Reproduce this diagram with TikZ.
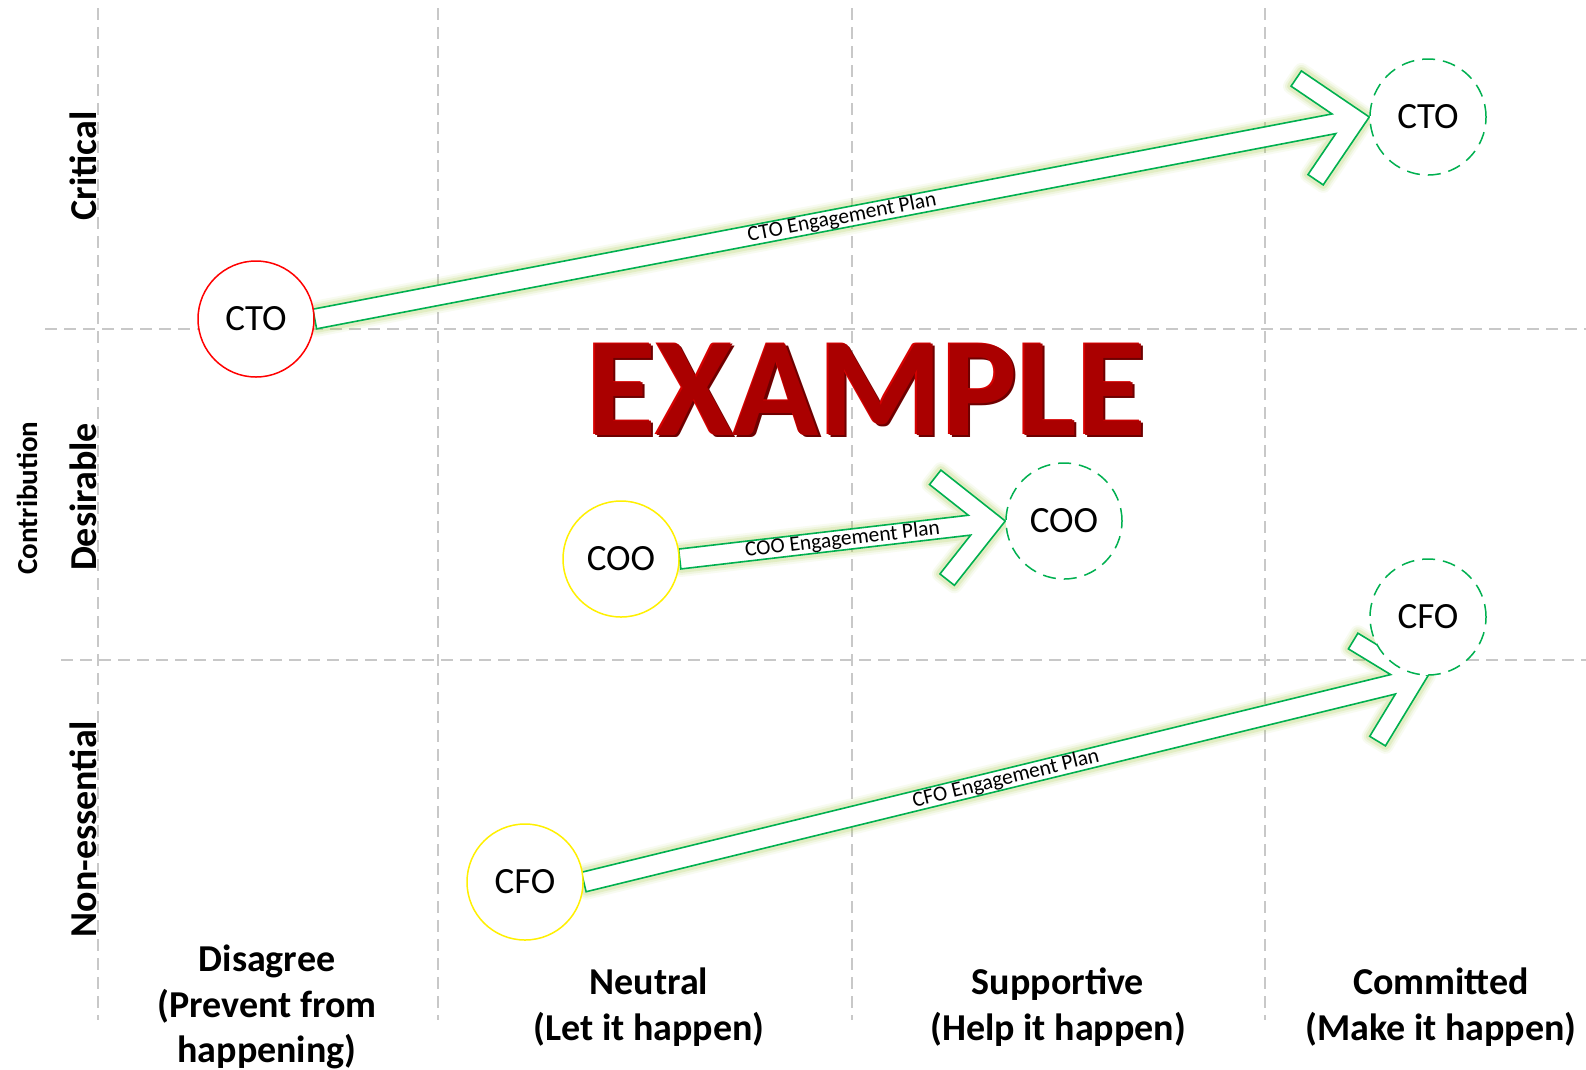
\documentclass[tikz,border=0pt]{standalone}
\usepackage{fontspec}
\setmainfont{Carlito}
\usetikzlibrary{calc}
\pgfdeclarelayer{bg}
\pgfdeclarelayer{arr}
\pgfsetlayers{bg,arr,main}
\definecolor{gridgray}{RGB}{200,200,200}
\definecolor{plangreen}{RGB}{0,176,80}
\definecolor{glowgreen}{RGB}{160,200,60}
\definecolor{nowred}{RGB}{255,0,0}
\definecolor{nowyellow}{RGB}{255,240,0}
\definecolor{exdark}{RGB}{110,0,0}
\definecolor{exmid}{RGB}{170,0,0}
\definecolor{exlight}{RGB}{215,0,0}

\newcommand\engarrow[3]{%
  \path (#1) coordinate (T) (#2) coordinate (P);
  \path ($(P)!36pt!(T)$) coordinate (Ha)
        ($(P)!58pt!(T)$) coordinate (Hb)
        ($(P)!71pt!(T)$) coordinate (Hc);
  \path ($(T)!10pt!90:(P)$) coordinate (tU)
        ($(T)!10pt!-90:(P)$) coordinate (tD)
        ($(Ha)!10pt!90:(P)$) coordinate (sU)
        ($(Ha)!10pt!-90:(P)$) coordinate (sD)
        ($(Hb)!58pt!90:(P)$) coordinate (bU)
        ($(Hb)!58pt!-90:(P)$) coordinate (bD)
        ($(Hc)!45pt!90:(P)$) coordinate (cU)
        ($(Hc)!45pt!-90:(P)$) coordinate (cD);
  \foreach \w/\o in {16/0.07, 12/0.10, 8/0.16}{
    \draw[glowgreen, line width=\w pt, opacity=\o, line join=round]
      (tU) -- (sU) -- (cU) -- (bU) -- (P) -- (bD) -- (cD) -- (sD) -- (tD) -- cycle;}
  \draw[plangreen, fill=white, line width=1.6pt, line join=miter]
      (tU) -- (sU) -- (cU) -- (bU) -- (P) -- (bD) -- (cD) -- (sD) -- (tD) -- cycle;
  \path (T) -- (P) node[midway, sloped, inner sep=0pt, font=\fontsize{21.5}{25}\selectfont] {#3};
}

\tikzset{
  gridline/.style={gridgray, line width=1.8pt, dash pattern=on 12pt off 7pt},
  person/.style={circle, minimum size=116pt, inner sep=0pt, line width=1.5pt, fill=white,
                 font=\fontsize{37}{44}\selectfont},
  nowstate/.style={person, draw=#1},
  goalstate/.style={person, draw=plangreen, dash pattern=on 13pt off 8pt},
  axislabel/.style={font=\bfseries\fontsize{38}{45.5}\selectfont, align=center},
  rowlabel/.style={font=\bfseries\fontsize{38}{45.5}\selectfont, rotate=90},
}

\begin{document}
\begin{tikzpicture}[x=1pt, y=-1pt]
\useasboundingbox (0,0) rectangle (1586,1069);

\begin{pgfonlayer}{bg}
  \fill[white] (0,0) rectangle (1586,1069);
  \foreach \gx in {98,438,852,1265}{
    \draw[gridline] (\gx,8) -- (\gx,1020);}
  \draw[gridline] (45,329) -- (1586,329);
  \draw[gridline] (61,660) -- (1586,660);
\end{pgfonlayer}

% EXAMPLE watermark
\node[font=\bfseries\fontsize{141}{150}\selectfont, text=exdark, anchor=base, inner sep=0pt] (exshadow) at (869,437) {EXAMPLE};
\node[font=\bfseries\fontsize{141}{150}\selectfont, text=exlight, anchor=base, inner sep=0pt] (exhigh) at (865,434) {EXAMPLE};
\node[font=\bfseries\fontsize{141}{150}\selectfont, text=exmid, anchor=base, inner sep=0pt] (example) at (866.5,435) {EXAMPLE};

% stakeholders
\node[nowstate=nowred] (cto1) at (256,319) {CTO};
\node[goalstate] (cto2) at (1428,117) {CTO};
\node[nowstate=nowyellow] (coo1) at (621,559) {COO};
\node[goalstate] (coo2) at (1064,521) {COO};
\node[nowstate=nowyellow] (cfo1) at (525,882) {CFO};
\node[goalstate] (cfo2) at (1428,617) {CFO};

\begin{pgfonlayer}{arr}
  \engarrow{cto1.east}{cto2.west}{CTO Engagement Plan}
  \engarrow{coo1.east}{coo2.west}{COO Engagement Plan}
  \engarrow{cfo1.east}{cfo2.south}{CFO Engagement Plan}
\end{pgfonlayer}

% axis labels
\node[font=\bfseries\fontsize{29}{34}\selectfont, rotate=90] (contrib) at (27,498) {Contribution};
\node[rowlabel] (critical) at (83,166) {Critical};
\node[rowlabel] (desirable) at (83,497) {Desirable};
\node[rowlabel] (nonessential) at (83,829) {Non-essential};

\node[axislabel] (disagree) at (267,1007) {Disagree\\(Prevent from\\happening)};
\node[axislabel] (neutral) at (649,1007) {Neutral\\(Let it happen)};
\node[axislabel] (supportive) at (1058,1007) {Supportive\\(Help it happen)};
\node[axislabel] (committed) at (1441,1007) {Committed\\(Make it happen)};
\end{tikzpicture}
\end{document}
